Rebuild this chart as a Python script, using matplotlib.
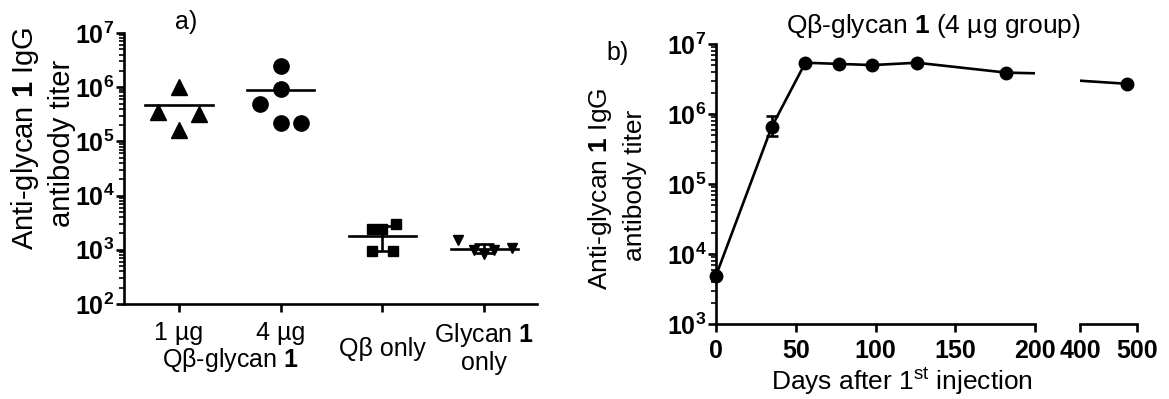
import matplotlib
matplotlib.use("Agg")
import matplotlib.pyplot as plt
import numpy as np

plt.rcParams['font.family'] = ['Liberation Sans', 'DejaVu Sans']
plt.rcParams['mathtext.fontset'] = 'custom'
plt.rcParams['mathtext.rm'] = 'Liberation Sans'
plt.rcParams['mathtext.bf'] = 'Liberation Sans:bold'
plt.rcParams['mathtext.it'] = 'Liberation Sans:italic'

# ---------------- Data: panel a ----------------
categories = ["1 µg", "4 µg", "Qβ only", "Glycan $\\mathbf{1}$\nonly"]
g1_x = [0, -0.21, 0.2, 0]
g1_y = [1.0e6, 3.5e5, 3.2e5, 1.6e5]
g2_x = [0, 0, -0.2, 0, 0.2]
g2_y = [2.5e6, 9.2e5, 4.9e5, 2.15e5, 2.15e5]
g3_x = [0.13, -0.1, 0.0, -0.1, 0.1]
g3_y = [3.0e3, 2.4e3, 2.4e3, 0.97e3, 0.97e3]
g4_x = [-0.26, 0.27, -0.1, 0.1, 0.0]
g4_y = [1.5e3, 1.07e3, 1.0e3, 1.0e3, 0.82e3]
means_a = [4.7e5, 8.9e5, 1.78e3, 1.03e3]
err_lo_a = [None, None, 0.97e3, 0.87e3]
err_hi_a = [None, None, 2.75e3, 1.27e3]

# ---------------- Data: panel b ----------------
days = [0, 35, 56, 77, 98, 126, 182, 483]
titer = [4.9e3, 6.6e5, 5.4e6, 5.2e6, 5.0e6, 5.4e6, 3.9e6, 2.7e6]
titer_lo = [4.9e3, 4.8e5, 5.4e6, 5.2e6, 5.0e6, 5.4e6, 3.9e6, 2.7e6]
titer_hi = [4.9e3, 9.5e5, 5.4e6, 5.2e6, 5.0e6, 5.4e6, 3.9e6, 2.7e6]
left_ticks = [0, 50, 100, 150, 200]
right_ticks = [400, 500]
ytick_vals_a = [1e2, 1e3, 1e4, 1e5, 1e6, 1e7]
ytick_vals_b = [1e3, 1e4, 1e5, 1e6, 1e7]

W, H = 1169, 399
fig = plt.figure(figsize=(W / 100, H / 100), dpi=100)

LW = 1.9

def style_axis(ax):
    for s in ['top', 'right']:
        ax.spines[s].set_visible(False)
    for s in ['left', 'bottom']:
        ax.spines[s].set_linewidth(LW)
    ax.tick_params(which='major', direction='out', length=6, width=LW)
    ax.tick_params(which='minor', direction='out', length=3.5, width=1.2)

def pow_label(v):
    return r'$\mathbf{10^{%d}}$' % int(round(np.log10(v)))

# ---------------- Panel a ----------------
axA = fig.add_axes([124 / W, 1 - 304 / H, (537 - 124) / W, (304 - 33) / H])
style_axis(axA)
axA.set_yscale('log')
axA.set_ylim(1e2, 1e7)
axA.set_xlim(-0.54, 3.52)
axA.set_yticks(ytick_vals_a)
axA.set_yticklabels([pow_label(v) for v in ytick_vals_a], fontsize=18)
axA.yaxis.set_minor_locator(matplotlib.ticker.LogLocator(base=10, subs=np.arange(2, 10)))
axA.yaxis.set_minor_formatter(matplotlib.ticker.NullFormatter())
axA.set_xticks(range(len(categories)))
axA.set_xticklabels(categories, fontsize=18, linespacing=1.1)
axA.tick_params(axis='x', pad=6)
axA.tick_params(axis='y', pad=1)
xl = axA.get_xticklabels()
xl[2].set_y(-0.06)

groups = [(g1_x, g1_y, '^', 11), (g2_x, g2_y, 'o', 11), (g3_x, g3_y, 's', 7), (g4_x, g4_y, 'v', 7)]
for i, (gx, gy, mk, ms) in enumerate(groups):
    axA.plot(np.array(gx) + i, gy, linestyle='none', marker=mk, color='black',
             markersize=ms, clip_on=False, zorder=3)
    axA.plot([i - 0.33, i + 0.33], [means_a[i], means_a[i]], color='black', lw=LW, zorder=2)
    if err_lo_a[i] is not None:
        axA.errorbar([i], [means_a[i]],
                     yerr=[[means_a[i] - err_lo_a[i]], [err_hi_a[i] - means_a[i]]],
                     fmt='none', ecolor='black', elinewidth=LW, capsize=7, capthick=LW, zorder=2)

fig.text(186 / W, 1 - 22 / H, 'a)', fontsize=18, ha='center', va='center')
fig.text(25 / W, 1 - 138 / H, r'Anti-glycan $\mathbf{1}$ IgG', fontsize=21, rotation=90,
         ha='center', va='center')
fig.text(62 / W, 1 - 143 / H, 'antibody titer', fontsize=21, rotation=90,
         ha='center', va='center')
fig.text(230 / W, 1 - 360 / H, r'Qβ-glycan $\mathbf{1}$', fontsize=18, ha='center', va='center')

# ---------------- Panel b ----------------
axB = fig.add_axes([716 / W, 1 - 324 / H, (1035 - 716) / W, (324 - 44) / H])
axC = fig.add_axes([1080 / W, 1 - 324 / H, (1137 - 1080) / W, (324 - 44) / H])
style_axis(axB)
style_axis(axC)
for ax in (axB, axC):
    ax.set_yscale('log')
    ax.set_ylim(1e3, 1e7)
axB.set_xlim(0, 200)
axC.set_xlim(400, 500)
axC.spines['left'].set_visible(False)
axC.tick_params(axis='y', which='both', left=False, labelleft=False)
axB.set_yticks(ytick_vals_b)
axB.set_yticklabels([pow_label(v) for v in ytick_vals_b], fontsize=18)
axB.yaxis.set_minor_locator(matplotlib.ticker.LogLocator(base=10, subs=np.arange(2, 10)))
axB.yaxis.set_minor_formatter(matplotlib.ticker.NullFormatter())
axB.tick_params(axis='y', pad=1)
axB.set_xticks(left_ticks)
axB.set_xticklabels([str(t) for t in left_ticks], fontsize=18, fontweight='bold')
axC.set_xticks(right_ticks)
axC.set_xticklabels([str(t) for t in right_ticks], fontsize=18, fontweight='bold')
axC.yaxis.set_minor_locator(matplotlib.ticker.NullLocator())
for ax in (axB, axC):
    ax.tick_params(axis='x', pad=5)

d = np.array(days)
t = np.array(titer)
for ax in (axB, axC):
    ax.plot(d, t, color='black', lw=LW, zorder=2)
mB = d <= 200
axB.plot(d[mB], t[mB], 'o', color='black', markersize=9, clip_on=False, zorder=3)
axB.errorbar(d[mB], t[mB], yerr=[t[mB] - np.array(titer_lo)[mB], np.array(titer_hi)[mB] - t[mB]],
             fmt='none', ecolor='black', elinewidth=LW, capsize=4, capthick=LW, clip_on=False)
mC = d >= 400
axC.plot(d[mC], t[mC], 'o', color='black', markersize=9, clip_on=False, zorder=3)

fig.text(618 / W, 1 - 53 / H, 'b)', fontsize=18, ha='center', va='center')
fig.text(933 / W, 1 - 26 / H, r'Qβ-glycan $\mathbf{1}$ (4 µg group)', fontsize=19,
         ha='center', va='center')
fig.text(600 / W, 1 - 189 / H, r'Anti-glycan $\mathbf{1}$ IgG', fontsize=19, rotation=90,
         ha='center', va='center')
fig.text(635 / W, 1 - 185 / H, 'antibody titer', fontsize=19, rotation=90,
         ha='center', va='center')
fig.text(902 / W, 1 - 382 / H, r'Days after 1$^{\mathrm{st}}$ injection', fontsize=19,
         ha='center', va='center')

fig.savefig('out.png', dpi=100, facecolor='white')
